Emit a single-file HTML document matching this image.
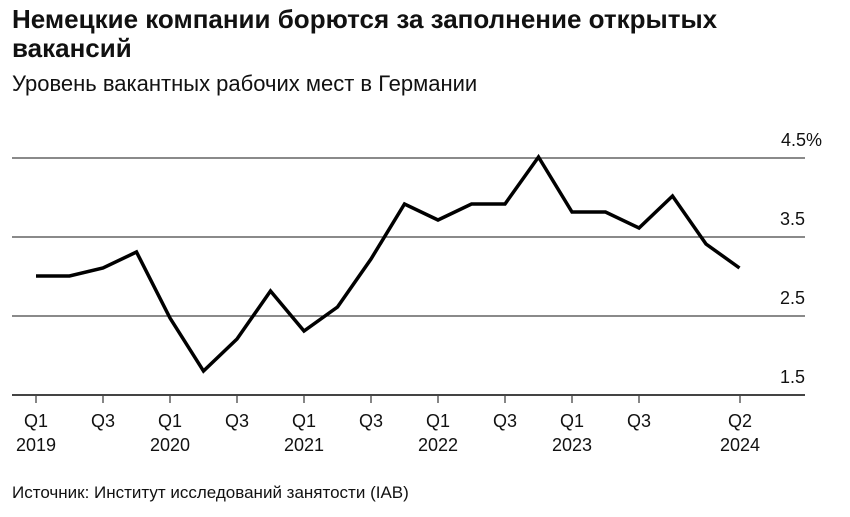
<!DOCTYPE html>
<html><head><meta charset="utf-8"><style>
body{margin:0;background:#fff;width:850px;height:512px;overflow:hidden;font-family:"Liberation Sans",sans-serif;}
</style></head><body>
<svg width="850" height="512" xmlns="http://www.w3.org/2000/svg" font-family="Liberation Sans, sans-serif">
<text x="12" y="28" font-size="26" font-weight="bold" fill="#111">Немецкие компании борются за заполнение открытых</text>
<text x="12" y="57" font-size="26" font-weight="bold" fill="#111">вакансий</text>
<text x="12" y="91" font-size="22" fill="#111">Уровень вакантных рабочих мест в Германии</text>
<g stroke="#444" stroke-width="1.3">
<line x1="12" y1="158" x2="805" y2="158"/>
<line x1="12" y1="237" x2="805" y2="237"/>
<line x1="12" y1="316" x2="805" y2="316"/>
</g>
<line x1="12" y1="395" x2="805" y2="395" stroke="#444" stroke-width="2"/>
<g font-size="18" fill="#111" text-anchor="end">
<text x="822" y="146">4.5%</text>
<text x="805" y="225">3.5</text>
<text x="805" y="304">2.5</text>
<text x="805" y="383">1.5</text>
</g>
<g stroke="#444" stroke-width="1.3">
<line x1="36" y1="395" x2="36" y2="403"/><line x1="103" y1="395" x2="103" y2="403"/>
<line x1="170" y1="395" x2="170" y2="403"/><line x1="237" y1="395" x2="237" y2="403"/>
<line x1="304" y1="395" x2="304" y2="403"/><line x1="371" y1="395" x2="371" y2="403"/>
<line x1="438" y1="395" x2="438" y2="403"/><line x1="505" y1="395" x2="505" y2="403"/>
<line x1="572" y1="395" x2="572" y2="403"/><line x1="639" y1="395" x2="639" y2="403"/>
<line x1="740" y1="395" x2="740" y2="403"/>
</g>
<g font-size="18" fill="#111" text-anchor="middle">
<text x="36" y="427">Q1</text><text x="36" y="451">2019</text>
<text x="103" y="427">Q3</text>
<text x="170" y="427">Q1</text><text x="170" y="451">2020</text>
<text x="237" y="427">Q3</text>
<text x="304" y="427">Q1</text><text x="304" y="451">2021</text>
<text x="371" y="427">Q3</text>
<text x="438" y="427">Q1</text><text x="438" y="451">2022</text>
<text x="505" y="427">Q3</text>
<text x="572" y="427">Q1</text><text x="572" y="451">2023</text>
<text x="639" y="427">Q3</text>
<text x="740" y="427">Q2</text><text x="740" y="451">2024</text>
</g>
<polyline fill="none" stroke="#000" stroke-width="3.5" stroke-linejoin="miter" points="36,276 69.5,276 103,268 136.5,252 170,318 203.5,371 237,339 270.5,291 304,331 337.5,307 371,259 404.5,204 438,220 471.5,204 505,204 538.5,157 572,212 605.5,212 639,228 672.5,196 706,244 739.5,268"/>
<text x="12" y="498" font-size="17" fill="#111">Источник: Институт исследований занятости (IAB)</text>
</svg>
</body></html>
